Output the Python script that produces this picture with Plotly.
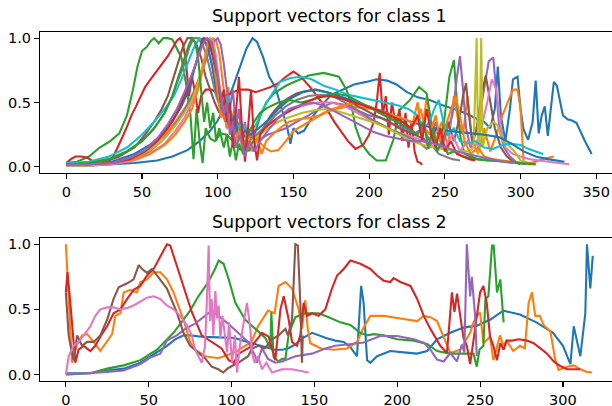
import plotly.graph_objects as go

# ---------------- data: class 1 support vectors (x, y) ----------------
c1_s01 = [(0,0.02),(15,0.02),(30,0.02),(45,0.03),(60,0.05),(70,0.08),(80,0.13),(88,0.2),(95,0.28),(100,0.36),(105,0.48),(110,0.62),(115,0.78),(119,0.92),(123,1.0),(126,0.97),(130,0.85),(134,0.7),(138,0.62),(141,0.5),(144,0.38),(146,0.3),(148,0.18),(150,0.3),(153,0.26),(157,0.28),(162,0.38),(168,0.47),(175,0.56),(182,0.6),(190,0.64),(198,0.66),(205,0.68),(212,0.67),(218,0.64),(225,0.58),(232,0.54),(240,0.52),(248,0.48),(256,0.45),(263,0.42),(270,0.38),(276,0.35),(280,0.3),(283,0.45),(285,0.78),(287,0.4),(290,0.2),(293,0.45),(295,0.68),(298,0.7),(300,0.45),(302,0.29),(305,0.21),(308,0.35),(310,0.67),(312,0.26),(314,0.4),(316,0.47),(318,0.24),(320,0.45),(322,0.66),(324,0.63),(326,0.52),(328,0.4),(331,0.37),(334,0.36),(337,0.34),(340,0.26),(343,0.19),(347,0.1)]
c1_s02 = [(0,0.01),(15,0.01),(30,0.03),(45,0.08),(55,0.14),(65,0.25),(72,0.35),(78,0.45),(84,0.58),(88,0.7),(92,0.85),(95,0.97),(97,1.0),(99,0.98),(101,0.88),(103,0.7),(105,0.5),(107,0.62),(109,0.35),(111,0.45),(113,0.2),(115,0.38),(117,0.15),(119,0.3),(121,0.12),(124,0.25),(127,0.2),(131,0.15),(135,0.12),(140,0.13),(145,0.2),(150,0.28),(156,0.32),(162,0.36),(170,0.42),(178,0.45),(186,0.47),(194,0.46),(202,0.45),(210,0.4),(216,0.38),(222,0.35),(228,0.3),(232,0.5),(235,0.25),(238,0.55),(241,0.3),(244,0.2),(248,0.35),(252,0.15),(256,0.55),(259,0.35),(262,0.25),(265,0.55),(268,0.2),(272,0.1),(276,0.3),(280,0.12),(284,0.25),(288,0.4),(292,0.52),(295,0.6),(298,0.6),(300,0.45),(302,0.04),(306,0.03),(310,0.04),(314,0.06),(318,0.07),(322,0.08)]
c1_s03 = [(0,0.03),(7,0.04),(15,0.08),(22,0.15),(29,0.2),(35,0.26),(40,0.4),(44,0.6),(47,0.78),(50,0.9),(53,0.93),(56,0.98),(58,1.0),(61,0.96),(64,1.0),(67,1.0),(70,0.99),(73,0.92),(76,0.85),(79,0.65),(82,0.4),(84,0.06),(86,0.45),(88,0.2),(90,0.03),(92,0.3),(95,0.22),(98,0.2),(102,0.26),(106,0.25),(110,0.2),(114,0.14),(118,0.12),(121,0.13),(124,0.25),(128,0.39),(132,0.5),(137,0.57),(145,0.63),(152,0.67),(160,0.71),(170,0.73),(180,0.7),(185,0.6),(188,0.5),(191,0.31),(195,0.18),(200,0.1),(205,0.05),(211,0.05),(216,0.21),(220,0.44),(227,0.52),(233,0.62),(238,0.57),(241,0.35),(244,0.2),(247,0.15),(250,0.4),(253,0.7),(256,0.83),(258,0.5),(260,0.25),(263,0.1),(267,0.08),(272,0.06),(278,0.05),(285,0.05),(292,0.04),(300,0.03),(305,0.02),(310,0.02)]
c1_s04 = [(0,0.03),(3,0.06),(6,0.08),(10,0.08),(14,0.07),(18,0.04),(22,0.03),(27,0.03),(31,0.08),(34,0.15),(37,0.23),(40,0.31),(43,0.4),(46,0.47),(49,0.55),(52,0.62),(55,0.67),(58,0.72),(61,0.76),(64,0.82),(67,0.86),(70,0.92),(73,0.98),(75,1.0),(77,0.96),(79,0.82),(81,0.55),(83,0.7),(85,0.58),(87,0.42),(89,0.55),(92,0.6),(96,0.6),(100,0.57),(105,0.55),(110,0.58),(115,0.6),(120,0.6),(125,0.58),(130,0.6),(135,0.62),(140,0.65),(145,0.7),(150,0.74),(155,0.7),(161,0.62),(166,0.54),(172,0.45),(177,0.35),(181,0.28),(186,0.2),(191,0.14),(196,0.17),(200,0.25),(203,0.35),(205,0.5),(207,0.73),(209,0.4),(211,0.55),(213,0.25),(215,0.5),(218,0.3),(220,0.45),(222,0.2),(224,0.42),(226,0.15),(228,0.35),(230,0.12),(232,0.04),(234,0.03),(235,0.015)]
c1_s05 = [(0,0.01),(15,0.01),(30,0.02),(45,0.06),(55,0.12),(63,0.2),(70,0.3),(76,0.4),(81,0.5),(85,0.6),(89,0.72),(92,0.82),(95,0.92),(98,0.98),(100,1.0),(102,0.95),(104,0.8),(106,0.6),(108,0.45),(110,0.6),(112,0.3),(114,0.45),(116,0.2),(118,0.35),(120,0.15),(123,0.3),(126,0.2),(129,0.22),(133,0.25),(138,0.27),(145,0.3),(152,0.35),(160,0.4),(168,0.46),(176,0.5),(184,0.48),(192,0.44),(200,0.4),(208,0.38),(216,0.33),(224,0.3),(230,0.26),(236,0.3),(240,0.2),(244,0.35),(248,0.15),(252,0.3),(255,0.4),(258,0.7),(260,0.86),(262,0.6),(264,0.3),(267,0.15),(270,0.25),(273,0.4),(276,0.6),(279,0.82),(282,0.85),(284,0.6),(286,0.3),(289,0.15),(293,0.08),(297,0.04),(300,0.03),(303,0.02)]
c1_s06 = [(0,0.02),(15,0.02),(25,0.04),(35,0.08),(45,0.15),(52,0.25),(58,0.35),(63,0.45),(67,0.55),(71,0.7),(74,0.82),(77,0.93),(80,1.0),(83,1.0),(86,0.95),(89,0.85),(92,0.7),(95,0.6),(98,0.5),(101,0.42),(104,0.5),(106,0.3),(108,0.42),(110,0.22),(113,0.35),(116,0.18),(119,0.3),(122,0.2),(126,0.22),(130,0.3),(135,0.4),(140,0.47),(146,0.53),(152,0.57),(158,0.59),(165,0.6),(172,0.58),(180,0.55),(188,0.5),(196,0.45),(204,0.4),(212,0.36),(220,0.3),(228,0.26),(236,0.22),(240,0.15),(244,0.3),(248,0.2),(252,0.35),(256,0.2),(260,0.4),(262,0.55),(264,0.65),(266,0.4),(268,0.2),(271,0.3),(274,0.55),(277,0.71),(280,0.5),(283,0.3),(287,0.15),(291,0.08),(295,0.04),(300,0.02)]
c1_s07 = [(0,0.01),(15,0.01),(30,0.02),(45,0.05),(55,0.1),(65,0.18),(72,0.28),(78,0.38),(83,0.5),(87,0.62),(90,0.78),(93,0.92),(95,1.0),(97,0.98),(99,0.85),(101,0.65),(103,0.5),(105,0.55),(107,0.35),(110,0.4),(113,0.25),(116,0.3),(120,0.22),(125,0.25),(130,0.3),(136,0.35),(143,0.4),(150,0.45),(158,0.48),(166,0.5),(175,0.5),(184,0.47),(192,0.42),(200,0.37),(208,0.33),(216,0.28),(224,0.25),(232,0.22),(240,0.18),(246,0.3),(250,0.15),(255,0.25),(260,0.12),(265,0.2),(270,0.15),(274,0.3),(278,0.5),(281,0.68),(284,0.6),(287,0.3),(290,0.15),(295,0.1),(300,0.08),(306,0.06),(312,0.05),(318,0.04),(325,0.03),(332,0.02)]
c1_s08 = [(0,0.02),(15,0.03),(28,0.06),(40,0.12),(50,0.2),(58,0.3),(65,0.42),(70,0.55),(74,0.68),(78,0.8),(81,0.92),(84,1.0),(87,1.0),(90,0.95),(93,0.85),(96,0.7),(99,0.55),(102,0.45),(105,0.35),(108,0.42),(111,0.25),(114,0.32),(117,0.2),(121,0.22),(126,0.25),(132,0.32),(138,0.4),(145,0.47),(152,0.52),(160,0.55),(168,0.56),(176,0.55),(184,0.5),(192,0.44),(200,0.38),(208,0.33),(216,0.28),(224,0.24),(232,0.2),(238,0.14),(242,0.16),(246,0.1),(250,0.08),(255,0.06),(260,0.05)]
c1_s09 = [(0,0.01),(15,0.01),(30,0.03),(45,0.07),(55,0.13),(65,0.22),(72,0.32),(78,0.42),(83,0.52),(87,0.65),(90,0.78),(93,0.9),(95,1.0),(97,0.95),(99,0.8),(101,0.6),(103,0.45),(106,0.5),(109,0.3),(112,0.35),(115,0.2),(118,0.22),(122,0.2),(127,0.24),(133,0.3),(140,0.35),(148,0.39),(156,0.42),(164,0.44),(172,0.45),(180,0.43),(188,0.4),(196,0.37),(204,0.34),(212,0.3),(220,0.25),(228,0.2),(236,0.17),(244,0.15),(252,0.13),(260,0.12),(266,0.12),(269,0.15),(271,1.0),(272,0.1),(273,0.2),(274,1.0),(275,0.15),(278,0.3),(282,0.35),(285,0.32),(288,0.2),(292,0.17),(296,0.12),(300,0.05),(305,0.02)]
c1_s10 = [(0,0.03),(15,0.04),(28,0.08),(40,0.15),(50,0.25),(58,0.35),(65,0.45),(71,0.55),(76,0.68),(80,0.8),(84,0.92),(88,1.0),(91,0.98),(94,0.9),(97,0.75),(100,0.6),(103,0.5),(106,0.55),(109,0.4),(112,0.3),(116,0.33),(120,0.28),(125,0.32),(130,0.45),(135,0.55),(141,0.66),(148,0.69),(155,0.7),(162,0.68),(170,0.63),(178,0.6),(186,0.56),(194,0.54),(202,0.52),(210,0.5),(218,0.48),(226,0.45),(232,0.4),(236,0.3),(240,0.35),(243,0.45),(246,0.52),(249,0.35),(252,0.25),(256,0.3),(260,0.2),(265,0.18),(270,0.2),(276,0.15),(282,0.14),(288,0.17),(294,0.18),(300,0.17),(305,0.14),(310,0.12),(315,0.1)]
c1_s11 = [(0,0.02),(15,0.02),(30,0.04),(45,0.1),(55,0.17),(63,0.25),(70,0.35),(76,0.47),(81,0.6),(85,0.78),(88,0.92),(90,1.0),(93,0.95),(96,0.8),(99,0.6),(102,0.45),(105,0.52),(108,0.3),(111,0.4),(114,0.22),(118,0.28),(122,0.25),(127,0.3),(133,0.36),(140,0.45),(148,0.53),(156,0.58),(164,0.6),(172,0.58),(180,0.55),(188,0.52),(196,0.48),(204,0.45),(212,0.42),(220,0.38),(228,0.35),(236,0.32),(244,0.3),(252,0.28),(260,0.27),(268,0.26),(276,0.25),(286,0.23),(294,0.18),(302,0.12),(310,0.08),(318,0.06),(324,0.05),(329,0.04)]
c1_s12 = [(0,0.02),(15,0.02),(30,0.03),(45,0.06),(55,0.1),(65,0.17),(72,0.25),(78,0.35),(83,0.45),(87,0.6),(90,0.75),(92,0.88),(94,1.0),(96,0.95),(98,0.75),(100,0.55),(102,0.38),(104,0.45),(106,0.3),(108,0.35),(111,0.15),(114,0.28),(117,0.1),(120,0.25),(123,0.12),(126,0.22),(129,0.1),(132,0.2),(136,0.25),(141,0.3),(147,0.35),(153,0.37),(160,0.38),(168,0.4),(176,0.45),(184,0.48),(192,0.5),(200,0.47),(208,0.43),(216,0.4),(224,0.37),(230,0.33),(234,0.45),(237,0.3),(240,0.25),(244,0.4),(247,0.2),(250,0.3),(254,0.45),(257,0.55),(260,0.4),(263,0.2),(267,0.1),(272,0.15),(276,0.08),(282,0.06),(288,0.05),(294,0.04),(300,0.03)]
c1_s13 = [(0,0.02),(15,0.03),(28,0.06),(40,0.12),(50,0.2),(58,0.3),(65,0.42),(70,0.55),(74,0.7),(78,0.85),(81,0.95),(83,1.0),(85,0.97),(87,0.85),(89,0.6),(91,0.35),(93,0.5),(95,0.3),(97,0.42),(99,0.2),(101,0.3),(104,0.15),(106,0.25),(108,0.08),(110,0.2),(112,0.05),(114,0.18),(117,0.1),(120,0.25),(124,0.35),(128,0.42),(133,0.46),(140,0.5),(147,0.52),(155,0.5),(162,0.52),(170,0.55),(178,0.57),(186,0.55),(194,0.5),(202,0.45),(210,0.4),(218,0.35),(226,0.3),(232,0.25),(236,0.35),(239,0.15),(242,0.3),(245,0.12),(248,0.2),(252,0.1),(256,0.12),(262,0.08),(270,0.06),(280,0.05),(290,0.04),(300,0.03),(310,0.02)]
c1_s14 = [(0,0.02),(15,0.02),(30,0.03),(42,0.06),(52,0.12),(60,0.2),(67,0.3),(73,0.42),(78,0.55),(82,0.68),(85,0.78),(88,0.9),(91,1.0),(94,0.98),(97,0.85),(100,0.7),(102,0.5),(104,0.6),(106,0.35),(108,0.5),(110,0.15),(112,0.4),(114,0.7),(116,0.3),(118,0.04),(120,0.3),(122,0.6),(124,0.2),(126,0.05),(128,0.25),(131,0.3),(136,0.35),(142,0.4),(150,0.45),(158,0.5),(166,0.54),(174,0.55),(182,0.53),(190,0.5),(198,0.47),(206,0.44),(214,0.4),(222,0.35),(228,0.3),(232,0.4),(235,0.2),(238,0.45),(241,0.25),(244,0.15),(247,0.3),(250,0.12),(254,0.2),(258,0.1),(262,0.08),(266,0.06),(270,0.05)]
c1_s15 = [(0,0.02),(15,0.02),(30,0.03),(42,0.07),(52,0.13),(60,0.22),(67,0.33),(73,0.45),(78,0.58),(83,0.72),(87,0.85),(90,0.95),(93,1.0),(96,0.97),(98,0.85),(100,0.7),(102,0.55),(104,0.4),(106,0.5),(108,0.25),(110,0.35),(112,0.15),(115,0.25),(118,0.08),(121,0.2),(124,0.12),(128,0.2),(133,0.28),(140,0.38),(147,0.45),(155,0.48),(163,0.5),(171,0.47),(179,0.42),(187,0.37),(195,0.32),(203,0.27),(211,0.24),(219,0.22),(227,0.2),(235,0.2),(243,0.18),(251,0.15),(258,0.12),(265,0.1),(272,0.08),(280,0.06),(288,0.04),(295,0.03)]

# ---------------- data: class 2 support vectors (x, y) ----------------
c2_s1 = [(0,0.01),(15,0.01),(25,0.03),(35,0.045),(45,0.09),(51,0.14),(56,0.18),(61,0.22),(66,0.27),(71,0.3),(75,0.3),(82,0.29),(92,0.285),(102,0.28),(107,0.26),(112,0.24),(117,0.22),(122,0.2),(126,0.19),(130.5,0.19),(134,0.2),(138.5,0.23),(143,0.28),(148.6,0.32),(152.6,0.3),(157,0.28),(162.6,0.26),(167.7,0.25),(171.7,0.21),(175.7,0.14),(178.2,0.68),(179.7,0.55),(181.8,0.11),(183.8,0.09),(187.8,0.14),(195.8,0.18),(203.9,0.17),(212,0.16),(218,0.18),(224,0.27),(232,0.32),(240,0.36),(248,0.375),(256,0.42),(264,0.49),(274,0.46),(284,0.4),(294,0.32),(300,0.22),(304.5,0.08),(306.5,0.37),(310.5,0.14),(313.5,0.47),(314.5,1.0),(316.5,0.66),(318,0.91)]
c2_s2 = [(0,1.0),(2.7,0.29),(3.7,0.09),(6.8,0.23),(9.8,0.3),(12.8,0.31),(16.8,0.25),(20.8,0.18),(24.9,0.25),(27.9,0.31),(29.9,0.45),(32.9,0.47),(34.9,0.63),(38.9,0.65),(42.9,0.63),(45,0.71),(49,0.73),(53,0.785),(57,0.785),(61,0.73),(65,0.63),(71,0.42),(75,0.25),(78,0.19),(84,0.14),(92,0.125),(102,0.17),(108,0.22),(112,0.25),(116,0.37),(122,0.49),(126,0.47),(128.4,0.68),(132.5,0.71),(136.5,0.66),(140.5,0.5),(142.5,0.35),(144.5,0.57),(146,0.35),(147.5,0.24),(154,0.2),(161.5,0.19),(169.7,0.2),(175.7,0.25),(179.7,0.36),(183.8,0.45),(191.8,0.45),(201.9,0.43),(212,0.41),(216,0.45),(220,0.44),(224,0.41),(228,0.29),(232,0.165),(238,0.19),(244,0.32),(246,0.4),(248,0.45),(250,0.475),(252,0.24),(256,0.29),(258,0.11),(262,0.3),(264,0.22),(266,0.26),(270,0.18),(274,0.22),(277,0.2),(279.3,0.55),(281.3,0.63),(283.3,0.45),(286,0.45),(288.3,0.38),(292.4,0.33),(295.4,0.11),(297.4,0.035),(302.5,0.06),(306.5,0.07),(310.5,0.04),(314.5,0.02),(317.5,0.015)]
c2_s3 = [(0,0.0),(14.8,0.01),(24.9,0.045),(35,0.07),(45,0.11),(55,0.19),(65,0.32),(71,0.42),(75,0.49),(80,0.6),(86,0.71),(90,0.81),(92.2,0.875),(95.2,0.85),(98.3,0.73),(102.3,0.55),(108.3,0.42),(114.4,0.35),(120.4,0.28),(123.4,0.2),(124,0.475),(125.4,0.135),(128.4,0.1),(130.5,0.12),(132.5,0.12),(134.5,0.31),(138.5,0.44),(144.5,0.47),(152.6,0.47),(158.6,0.44),(165.7,0.4),(171.7,0.38),(177.7,0.32),(181.8,0.3),(185.8,0.31),(191.8,0.3),(200,0.27),(210,0.26),(218,0.235),(224,0.18),(232,0.16),(240,0.16),(246,0.16),(248,0.06),(249.6,0.19),(252,0.22),(253.2,0.58),(255,0.6),(257.2,0.99),(258.2,0.99),(260.2,0.63),(262.2,0.73),(264.2,0.4)]
c2_s4 = [(0,0.63),(1,0.785),(2.7,0.55),(4.7,0.19),(5.7,0.09),(7.7,0.19),(10.7,0.22),(14.8,0.18),(17.8,0.22),(20.8,0.29),(24.9,0.37),(28.8,0.47),(32.9,0.5),(37,0.58),(40.9,0.65),(45,0.68),(49,0.76),(53,0.81),(57,0.91),(61,1.0),(63,0.99),(69,0.76),(72,0.65),(76,0.48),(82,0.3),(88,0.25),(94,0.2),(98.3,0.11),(101.3,0.09),(104.3,0.16),(112.4,0.22),(118.4,0.32),(122.4,0.29),(126.4,0.11),(129.5,0.5),(131.5,0.6),(134.5,0.42),(136.5,0.25),(139.5,0.22),(141.5,0.3),(143.5,0.55),(145.6,0.45),(148.6,0.47),(152.6,0.45),(156.6,0.5),(160.6,0.66),(163.7,0.76),(167.7,0.81),(171.7,0.875),(177.7,0.85),(183.8,0.81),(187.8,0.76),(191.8,0.72),(195.8,0.71),(197.8,0.74),(201.9,0.71),(208,0.68),(212,0.58),(216,0.45),(220,0.35),(226,0.22),(230,0.165),(232,0.5),(233,0.63),(234.5,0.48),(236.1,0.62),(238,0.45),(240,0.28),(242,0.22),(244,0.08),(246,0.26),(250,0.63),(252,0.68),(254,0.55),(256,0.29),(258,0.22),(260.2,0.11),(262.2,0.24),(264.2,0.19),(266,0.26),(269.3,0.26),(273.3,0.27),(278.3,0.26),(282.3,0.24),(286.4,0.2),(290.4,0.16),(294.4,0.1),(298.4,0.065),(302.5,0.04),(306.5,0.04),(310.5,0.04)]
c2_s5 = [(0,0.0),(14.8,0.01),(25,0.02),(35,0.03),(45,0.08),(51,0.13),(57,0.16),(61,0.26),(67,0.3),(72,0.35),(78,0.39),(84,0.45),(88,0.49),(92,0.45),(98,0.39),(104,0.32),(110,0.25),(114.4,0.14),(115.4,0.09),(118.4,0.2),(122,0.12),(126.4,0.09),(130.5,0.1),(138.5,0.14),(148.6,0.16),(156.6,0.2),(162.6,0.22),(169.7,0.23),(179.7,0.245),(189.8,0.295),(200,0.295),(210,0.27),(216,0.245),(220,0.19),(224,0.115),(228,0.1),(232,0.165),(236,0.1),(239,0.23),(240.5,0.17),(242,1.0),(244,0.6),(245,0.75),(247,0.45),(248,0.14)]
c2_s6 = [(0,0.63),(1.7,0.3),(2.7,0.23),(4.7,0.11),(6.8,0.3),(9.8,0.22),(12.8,0.25),(16.8,0.25),(20.8,0.3),(24.9,0.42),(28.8,0.58),(31.9,0.67),(37,0.7),(40.9,0.73),(44,0.84),(46,0.81),(49,0.78),(52,0.81),(55,0.76),(61,0.66),(67,0.475),(71,0.32),(75,0.22),(78,0.19),(84,0.125),(88,0.06),(92,0.04),(95,0.015),(98,0.05),(104,0.09),(110,0.14),(112.4,0.2),(116.4,0.22),(120,0.2),(124.4,0.27),(128.4,0.3),(132.5,0.35),(134,0.3),(136.5,0.42),(138.5,1.0),(140,0.99),(141.5,0.55),(142.5,0.09),(143,0.3)]
c2_s7 = [(0,0.0),(1.7,0.14),(4.7,0.22),(7.7,0.25),(10.7,0.3),(14.8,0.37),(17.8,0.45),(20.8,0.5),(24.9,0.515),(28.8,0.515),(32.9,0.5),(37,0.51),(40.9,0.53),(45,0.56),(49,0.59),(53,0.6),(57,0.58),(61,0.53),(65,0.5),(69,0.45),(73,0.38),(76,0.3),(78,0.19),(82,0.09),(84,0.22),(85,0.53),(86.2,0.99),(87,0.41),(88,0.58),(89,0.3),(90.2,0.64),(91.2,0.43),(92.2,0.53),(93.3,0.28),(94.5,0.45),(96,0.3),(97.3,0.17),(98.5,0.4),(100.3,0.09),(102,0.3),(103.3,0.015),(105,0.22),(107.3,0.41),(109.3,0.55),(111.4,0.34),(112.4,0.16),(114,0.09),(116,0.14),(118.4,0.04),(121,0.09),(124.4,0.015),(130.5,0.04),(136.5,0.04),(140,0.03),(146.5,0.015)]

class1 = [c1_s01, c1_s02, c1_s03, c1_s04, c1_s05, c1_s06, c1_s07, c1_s08,
          c1_s09, c1_s10, c1_s11, c1_s12, c1_s13, c1_s14, c1_s15]
class2 = [c2_s1, c2_s2, c2_s3, c2_s4, c2_s5, c2_s6, c2_s7]

titles = ["Support vectors for class 1", "Support vectors for class 2"]
x_ticks_1 = [0, 50, 100, 150, 200, 250, 300, 350]
x_ticks_2 = [0, 50, 100, 150, 200, 250, 300]
y_ticks = [0.0, 0.5, 1.0]
y_tick_text = ["0.0", "0.5", "1.0"]

colors = ["#1f77b4", "#ff7f0e", "#2ca02c", "#d62728", "#9467bd",
          "#8c564b", "#e377c2", "#7f7f7f", "#bcbd22", "#17becf"]

# ---------------- figure ----------------
W, H = 612, 406
fig = go.Figure()

for i, s in enumerate(class1):
    xs, ys = zip(*s)
    fig.add_trace(go.Scatter(x=xs, y=ys, mode="lines", xaxis="x", yaxis="y",
                             line=dict(color=colors[i % 10], width=2.1),
                             showlegend=False, hoverinfo="skip"))
for i, s in enumerate(class2):
    xs, ys = zip(*s)
    fig.add_trace(go.Scatter(x=xs, y=ys, mode="lines", xaxis="x2", yaxis="y2",
                             line=dict(color=colors[i % 10], width=2.1),
                             showlegend=False, hoverinfo="skip"))

FONT = "DejaVu Sans"
tickfont = dict(family=FONT, size=14.5, color="black")

def xax(rng, ticks, anchor):
    return dict(domain=[40 / W, 1.0], range=rng, anchor=anchor, automargin=False,
                tickmode="array", tickvals=ticks, ticktext=[str(t) for t in ticks],
                showgrid=False, zeroline=False, showline=True, linecolor="black",
                linewidth=1.1, mirror=True, ticks="outside", ticklen=5,
                tickwidth=1.1, tickcolor="black", tickfont=tickfont)

def yax(top_px, bot_px, anchor):
    return dict(domain=[(H - bot_px) / H, (H - top_px) / H], range=[-0.05, 1.05],
                anchor=anchor, automargin=False, tickmode="array", tickvals=y_ticks,
                ticktext=y_tick_text,
                showgrid=False, zeroline=False, showline=True, linecolor="black",
                linewidth=1.1, mirror=False, ticks="outside", ticklen=5,
                tickwidth=1.1, tickcolor="black", tickfont=tickfont)

k1 = 1.514
k2 = 1.657
fig.update_layout(
    template="none",
    width=W, height=H,
    margin=dict(l=0, r=0, t=0, b=0, autoexpand=False),
    paper_bgcolor="white", plot_bgcolor="white",
    font=dict(family=FONT, color="black"),
    xaxis=xax([-17.4, -17.4 + 572 / k1], x_ticks_1, "y"),
    yaxis=yax(31.7, 173.3, "x"),
    xaxis2=xax([-15.6, -15.6 + 572 / k2], x_ticks_2, "y2"),
    yaxis2=yax(237.7, 381.0, "x2"),
    annotations=[
        dict(text=titles[0], x=329 / W, y=(H - 16) / H, xref="paper", yref="paper",
             xanchor="center", yanchor="middle", showarrow=False,
             font=dict(family=FONT, size=17.5, color="black")),
        dict(text=titles[1], x=329 / W, y=(H - 222) / H, xref="paper", yref="paper",
             xanchor="center", yanchor="middle", showarrow=False,
             font=dict(family=FONT, size=17.5, color="black")),
    ],
)

fig.write_html("out.html",
               config={"displayModeBar": False, "staticPlot": True},
               post_script="document.body.style.margin='0px';"
                           "document.documentElement.style.overflow='hidden';")
